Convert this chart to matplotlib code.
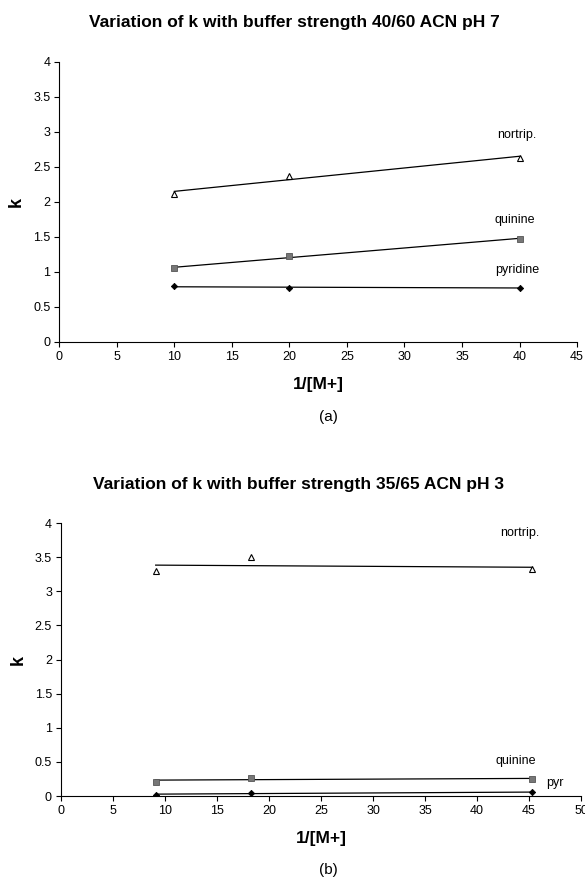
import matplotlib
matplotlib.use("Agg")
import matplotlib.pyplot as plt
import numpy as np

plt.rcParams["font.family"] = ["Liberation Sans", "DejaVu Sans"]

# Panel (a): 40/60 ACN pH 7
x_a = [10, 20, 40]
nortrip_a = [2.11, 2.37, 2.63]
quinine_a = [1.05, 1.22, 1.47]
pyridine_a = [0.79, 0.77, 0.77]

# Panel (b): 35/65 ACN pH 3
x_b = [9.1, 18.3, 45.3]
nortrip_b = [3.29, 3.50, 3.32]
quinine_b = [0.21, 0.27, 0.25]
pyr_b = [0.02, 0.045, 0.055]

title_a = "Variation of k with buffer strength 40/60 ACN pH 7"
title_b = "Variation of k with buffer strength 35/65 ACN pH 3"

styles = {
    "tri": dict(marker="^", ms=4, mfc="white", mec="black", mew=0.8),
    "sq": dict(marker="s", ms=4, mfc="#777777", mec="#555555", mew=0.6),
    "dia": dict(marker="D", ms=3.2, mfc="black", mec="black", mew=0.6),
}


def draw_series(ax, x, y, style):
    # data points
    ax.plot(x, y, ls="none", zorder=3, **styles[style])
    # linear trendline across data range
    slope, icpt = np.polyfit(x, y, 1)
    xs = np.array([min(x), max(x)])
    ax.plot(xs, slope * xs + icpt, color="black", lw=0.9, zorder=2)


def style_axes(ax, xmax):
    ax.set_xlim(0, xmax)
    ax.set_ylim(0, 4)
    ax.set_xticks(np.arange(0, xmax + 1, 5))
    ax.set_yticks(np.arange(0, 4.01, 0.5))
    ax.set_yticklabels([f"{v:g}" for v in np.arange(0, 4.01, 0.5)])
    for s in ["top", "right"]:
        ax.spines[s].set_visible(False)
    for s in ["left", "bottom"]:
        ax.spines[s].set_linewidth(0.8)
    ax.tick_params(direction="out", length=3.5, width=0.8, labelsize=9, pad=3)
    ax.set_xlabel("1/[M+]", fontsize=12.5, fontweight="bold", labelpad=10)
    ax.set_ylabel("k", fontsize=13, fontweight="bold", labelpad=6, rotation=90)


fig = plt.figure(figsize=(5.85, 8.82), dpi=100)

# ---- panel (a)
ax1 = fig.add_axes([0.1014, 0.6126, 0.885, 0.3175])
draw_series(ax1, x_a, nortrip_a, "tri")
draw_series(ax1, x_a, quinine_a, "sq")
draw_series(ax1, x_a, pyridine_a, "dia")
style_axes(ax1, 45)
ax1.text(39.8, 2.95, "nortrip.", fontsize=9, ha="center", va="center")
ax1.text(39.6, 1.74, "quinine", fontsize=9, ha="center", va="center")
ax1.text(39.8, 1.02, "pyridine", fontsize=9, ha="center", va="center")
fig.text(0.503, 1 - 22 / 882, title_a, fontsize=12.5, fontweight="bold",
         ha="center", va="center")
fig.text(0.561, 1 - 417 / 882, "(a)", fontsize=11, ha="center", va="center")

# ---- panel (b)
ax2 = fig.add_axes([0.1043, 0.0975, 0.889, 0.3095])
draw_series(ax2, x_b, nortrip_b, "tri")
draw_series(ax2, x_b, quinine_b, "sq")
draw_series(ax2, x_b, pyr_b, "dia")
style_axes(ax2, 50)
ax2.text(44.1, 3.85, "nortrip.", fontsize=9, ha="center", va="center")
ax2.text(43.7, 0.52, "quinine", fontsize=9, ha="center", va="center")
ax2.text(47.5, 0.19, "pyr", fontsize=9, ha="center", va="center")
fig.text(0.51, 1 - 485 / 882, title_b, fontsize=12.5, fontweight="bold",
         ha="center", va="center")
fig.text(0.561, 1 - 870 / 882, "(b)", fontsize=11, ha="center", va="center")

fig.savefig("out.png", dpi=100, facecolor="white")
